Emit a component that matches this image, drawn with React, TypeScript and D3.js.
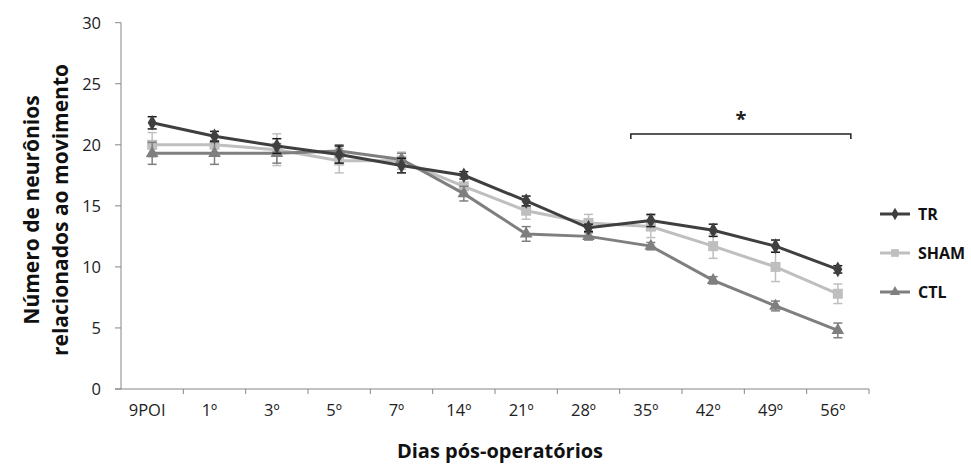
import React from "react";
import * as d3 from "d3";

const categories = ["9POI", "1º", "3º", "5º", "7º", "14º", "21º", "28º", "35º", "42º", "49º", "56º"];
const trValues = [21.8, 20.7, 19.9, 19.2, 18.3, 17.5, 15.4, 13.2, 13.8, 13.0, 11.7, 9.8];
const trErrors = [0.5, 0.4, 0.6, 0.7, 0.6, 0.3, 0.4, 0.3, 0.5, 0.5, 0.5, 0.3];
const shamValues = [20.0, 20.0, 19.6, 18.7, 18.7, 16.6, 14.6, 13.6, 13.3, 11.7, 10.0, 7.8];
const shamErrors = [1.0, 0.8, 1.3, 1.0, 0.7, 0.8, 0.7, 0.7, 0.9, 1.0, 1.2, 0.8];
const ctlValues = [19.3, 19.3, 19.3, 19.5, 18.8, 16.0, 12.7, 12.5, 11.7, 8.9, 6.8, 4.8];
const ctlErrors = [0.9, 0.9, 0.8, 0.5, 0.5, 0.6, 0.6, 0.3, 0.3, 0.3, 0.4, 0.6];
const yTicks = [0, 5, 10, 15, 20, 25, 30];
const seriesNames = ["TR", "SHAM", "CTL"];
const yTitleLines = ["Número de neurônios", "relacionados ao movimento"];
const xTitle = "Dias pós-operatórios";
const sigFrom = "35º";
const sigTo = "56º";
const sigLabel = "*";

const FONT = "'Open Sans', sans-serif";

type Series = { name: string; values: number[]; errors: number[]; color: string; errColor: string; marker: string };

export default function App() {
  const W = 971, H = 465;
  const x = d3.scaleBand<string>().domain(categories).range([121, 869]).padding(0);
  const y = d3.scaleLinear().domain([0, 30]).range([389, 22.7]);
  const cx = (c: string) => (x(c) as number) + x.bandwidth() / 2;

  const series: Series[] = [
    { name: seriesNames[1], values: shamValues, errors: shamErrors, color: "#bfbfbf", errColor: "#bfbfbf", marker: "square" },
    { name: seriesNames[2], values: ctlValues, errors: ctlErrors, color: "#7f7f7f", errColor: "#7f7f7f", marker: "triangle" },
    { name: seriesNames[0], values: trValues, errors: trErrors, color: "#3f3f3f", errColor: "#1a1a1a", marker: "diamond" },
  ];

  const line = d3.line<number>().x((_, i) => cx(categories[i])).y((v) => y(v));

  const markerPath = (type: string) => {
    if (type === "square") return d3.symbol(d3.symbolSquare, 100)();
    if (type === "triangle") return d3.symbol(d3.symbolTriangle, 70)();
    return d3.symbol(d3.symbolDiamond, 70)();
  };

  const legendItems = [
    { name: seriesNames[0], color: "#3f3f3f", marker: "diamond", y: 214 },
    { name: seriesNames[1], color: "#bfbfbf", marker: "square", y: 253 },
    { name: seriesNames[2], color: "#7f7f7f", marker: "triangle", y: 292 },
  ];

  const legendMarker = (type: string) => {
    if (type === "square") return d3.symbol(d3.symbolSquare, 60)();
    if (type === "triangle") return d3.symbol(d3.symbolTriangle, 45)();
    return d3.symbol(d3.symbolDiamond, 45)();
  };

  const bx0 = cx(sigFrom) - 20;
  const bx1 = cx(sigTo) + 13;
  const by = 134;

  return (
    <svg width={W} height={H} style={{ position: "absolute", left: 0, top: 0, background: "#fff" }}>
      <rect x={0} y={0} width={W} height={H} fill="#fff" />
      {/* axes */}
      <line x1={121} x2={121} y1={y(30)} y2={y(0)} stroke="#868686" strokeWidth={1} />
      <line x1={115} x2={869} y1={y(0)} y2={y(0)} stroke="#868686" strokeWidth={1} />
      {yTicks.map((t) => (
        <g key={t}>
          <line x1={115} x2={121} y1={y(t)} y2={y(t)} stroke="#868686" />
          <text x={101} y={y(t)} dy="0.36em" textAnchor="end" fontFamily={FONT} fontSize={16.5} fill="#222">{t}</text>
        </g>
      ))}
      {categories.map((c, i) => (
        <line key={"t" + i} x1={(x(c) as number) + x.bandwidth()} x2={(x(c) as number) + x.bandwidth()} y1={y(0)} y2={y(0) + 5} stroke="#868686" />
      ))}
      {categories.map((c) => (
        <text key={c} x={cx(c) - 5} y={416} textAnchor="middle" fontFamily={FONT} fontSize={16.5} fill="#222">{c}</text>
      ))}
      {/* titles */}
      <text transform="translate(39,210) rotate(-90)" textAnchor="middle" fontFamily={FONT} fontWeight="bold" fontSize={21} fill="#111">{yTitleLines[0]}</text>
      <text transform="translate(68,210) rotate(-90)" textAnchor="middle" fontFamily={FONT} fontWeight="bold" fontSize={21} fill="#111">{yTitleLines[1]}</text>
      <text x={500} y={458} textAnchor="middle" fontFamily={FONT} fontWeight="bold" fontSize={20} fill="#111">{xTitle}</text>
      {/* series */}
      {series.map((s) => (
        <g key={s.name}>
          {s.values.map((v, i) => {
            const px = cx(categories[i]);
            return (
              <g key={i} stroke={s.errColor} strokeWidth={1.5}>
                <line x1={px} x2={px} y1={y(v + s.errors[i])} y2={y(v - s.errors[i])} />
                <line x1={px - 4.5} x2={px + 4.5} y1={y(v + s.errors[i])} y2={y(v + s.errors[i])} />
                <line x1={px - 4.5} x2={px + 4.5} y1={y(v - s.errors[i])} y2={y(v - s.errors[i])} />
              </g>
            );
          })}
          <path d={line(s.values) as string} fill="none" stroke={s.color} strokeWidth={3} />
          {s.values.map((v, i) => (
            <path key={"m" + i} d={markerPath(s.marker) as string} transform={`translate(${cx(categories[i])},${y(v)})`} fill={s.color} />
          ))}
        </g>
      ))}
      {/* significance bracket */}
      <path d={`M${bx0},${by + 5}V${by}H${bx1}V${by + 5}`} fill="none" stroke="#222" strokeWidth={1.5} />
      <text x={(bx0 + bx1) / 2} y={by - 8} textAnchor="middle" fontFamily={FONT} fontWeight="bold" fontSize={20} fill="#222">{sigLabel}</text>
      {/* legend */}
      {legendItems.map((it) => (
        <g key={it.name}>
          <line x1={880} x2={910} y1={it.y} y2={it.y} stroke={it.color} strokeWidth={3} />
          <path d={legendMarker(it.marker) as string} transform={`translate(895,${it.y})`} fill={it.color} />
          <text x={918} y={it.y} dy="0.36em" fontFamily={FONT} fontWeight="bold" fontSize={16} fill="#111">{it.name}</text>
        </g>
      ))}
    </svg>
  );
}
